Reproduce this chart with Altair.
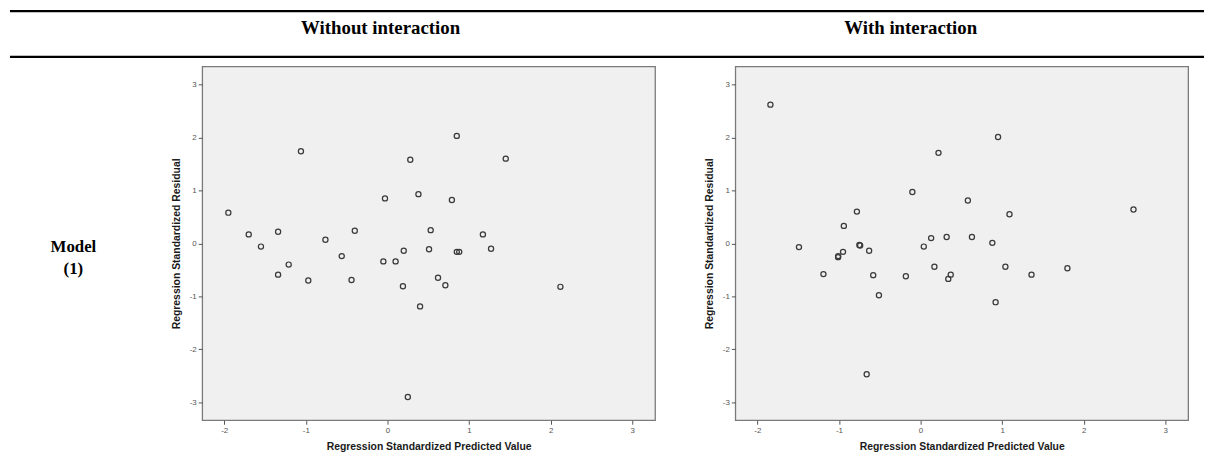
import altair as alt
import pandas as pd

# ---- data ----
x_without = [-1.95, -1.70, -1.55, -1.34, -1.34, -1.21, -1.06, -0.97, -0.76, -0.56, -0.44,
             -0.40, -0.05, -0.03, 0.10, 0.19, 0.20, 0.25, 0.28, 0.38, 0.40, 0.51, 0.53,
             0.62, 0.71, 0.79, 0.85, 0.85, 0.88, 1.17, 1.27, 1.45, 2.12]
y_without = [0.58, 0.17, -0.06, 0.22, -0.59, -0.40, 1.74, -0.70, 0.07, -0.24, -0.69,
             0.24, -0.34, 0.85, -0.34, -0.81, -0.14, -2.90, 1.58, 0.93, -1.19, -0.11, 0.25,
             -0.65, -0.79, 0.82, 2.03, -0.16, -0.16, 0.17, -0.10, 1.60, -0.82]

x_with = [-1.84, -1.49, -1.19, -1.01, -1.01, -0.95, -0.94, -0.78, -0.75, -0.74, -0.63,
          -0.66, -0.58, -0.51, -0.18, -0.10, 0.04, 0.13, 0.17, 0.22, 0.32, 0.34, 0.37,
          0.58, 0.63, 0.88, 0.92, 0.95, 1.04, 1.09, 1.36, 1.80, 2.61]
y_with = [2.62, -0.07, -0.58, -0.26, -0.24, -0.16, 0.33, 0.60, -0.03, -0.04, -0.14,
          -2.47, -0.60, -0.98, -0.62, 0.97, -0.06, 0.10, -0.44, 1.71, 0.12, -0.67, -0.59,
          0.81, 0.12, 0.01, -1.11, 2.01, -0.44, 0.55, -0.59, -0.47, 0.64]

col_headers = ["Without interaction", "With interaction"]
row_label = ["Model", "(1)"]
x_ticks = [-2, -1, 0, 1, 2, 3]
y_ticks = [-3, -2, -1, 0, 1, 2, 3]
x_title = "Regression Standardized Predicted Value"
y_title = "Regression Standardized Residual"

# ---- layout ----
PW, PH = 457, 357
XDOM = [-2.27, 3.28]
YDOM = [-3.34, 3.34]
TOTAL_W = 1198
SERIF = "Liberation Serif"
SANS = "Liberation Sans"


def axis(values, title):
    return alt.Axis(values=values, labelExpr="datum.value + ''", title=title, grid=False,
                    domain=False, ticks=True, tickSize=4, tickColor="#555", tickWidth=1,
                    labelFont=SANS, labelFontSize=8, labelColor="#555", labelPadding=2,
                    labelFlush=False, labelOverlap=False,
                    titleFont=SANS, titleFontSize=10.5, titleFontWeight="bold",
                    titleColor="#1a1a1a", titlePadding=8)


def scatter(xs, ys):
    df = pd.DataFrame({"x": xs, "y": ys})
    return alt.Chart(df).mark_point(
        shape="circle", filled=False, size=27, stroke="#3a3a3a", strokeWidth=1.25, opacity=1
    ).encode(
        x=alt.X("x:Q", scale=alt.Scale(domain=XDOM, nice=False, zero=False), axis=axis(x_ticks, x_title)),
        y=alt.Y("y:Q", scale=alt.Scale(domain=YDOM, nice=False, zero=False), axis=axis(y_ticks, y_title)),
    ).properties(width=PW, height=PH,
                 view=alt.ViewBackground(fill="#f0f0f0", stroke="#7a7a7a", strokeWidth=1.3))


def rule_at(y):
    return alt.Chart(pd.DataFrame({"a": [0]})).mark_rule(color="black", strokeWidth=2.2).encode(
        x=alt.value(1), x2=alt.value(TOTAL_W + 8), y=alt.value(y))


def text_at(label, x, y, size=19):
    return alt.Chart(pd.DataFrame({"label": [label]})).mark_text(
        font=SERIF, fontSize=size, fontWeight="bold", color="black",
        align="center", baseline="middle"
    ).encode(text="label:N", x=alt.value(x), y=alt.value(y))


header = alt.layer(
    rule_at(1.1),
    rule_at(47.3),
    text_at(col_headers[0], 375, 18),
    text_at(col_headers[1], 910, 18),
).properties(width=TOTAL_W, height=57, view=alt.ViewBackground(stroke=None))

label = alt.layer(
    text_at(row_label[0], 65, 182, 17),
    text_at(row_label[1], 65, 204, 17),
).properties(width=114, height=PH, view=alt.ViewBackground(stroke=None))

row = alt.hconcat(label, scatter(x_without, y_without), scatter(x_with, y_with),
                  spacing=81, bounds="flush")

chart = alt.vconcat(header, row, spacing=0, bounds="flush").properties(
    padding={"left": 0, "top": 0, "right": 0, "bottom": 0}
).configure_view(stroke=None)

chart.save("out.html", embed_options={"renderer": "svg", "actions": False})
